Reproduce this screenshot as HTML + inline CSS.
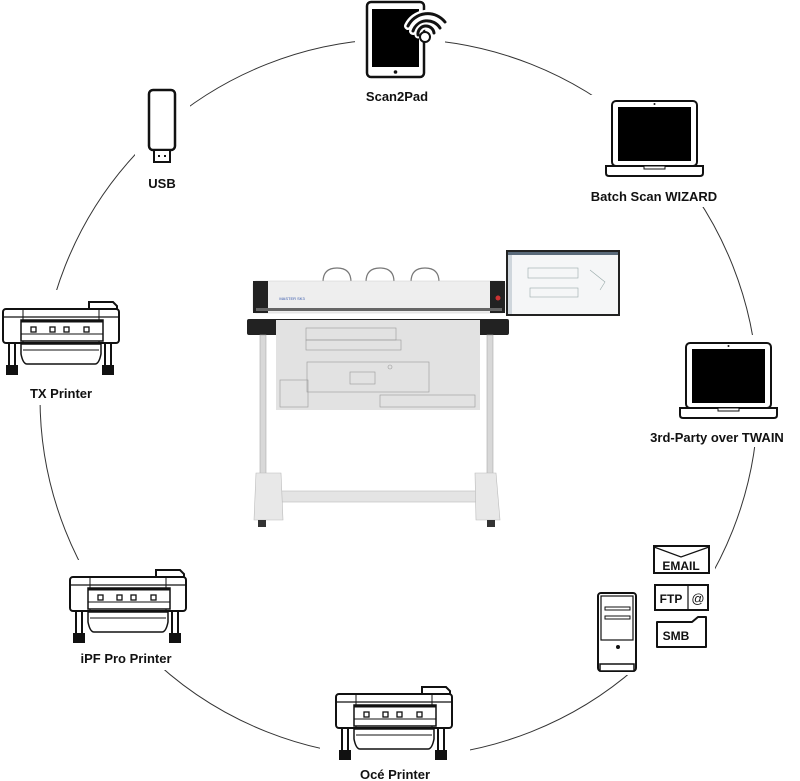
<!DOCTYPE html>
<html><head><meta charset="utf-8">
<style>
html,body{margin:0;padding:0;background:#fff;}
svg{display:block;}
text{font-family:"Liberation Sans",sans-serif;font-weight:bold;font-size:13px;fill:#111;text-anchor:middle;}
</style></head><body>
<svg width="800" height="781" viewBox="0 0 800 781" xmlns="http://www.w3.org/2000/svg">
<defs>
<g id="printer" fill="#fff" stroke="#111" stroke-width="2">
  <path d="M88 12 V4 H112 L116 8 V12"/>
  <rect x="2" y="11" width="116" height="34" rx="3"/>
  <line x1="2" y1="19" x2="118" y2="19" stroke-width="1.2"/>
  <line x1="22" y1="11" x2="22" y2="45" stroke-width="1"/>
  <line x1="98" y1="11" x2="98" y2="45" stroke-width="1"/>
  <rect x="20" y="22" width="82" height="21" stroke-width="1.5"/>
  <line x1="20" y1="23" x2="102" y2="23" stroke-width="3"/>
  <rect x="30" y="29" width="5" height="5" stroke-width="1.3"/>
  <rect x="49" y="29" width="5" height="5" stroke-width="1.3"/>
  <rect x="63" y="29" width="5" height="5" stroke-width="1.3"/>
  <rect x="83" y="29" width="5" height="5" stroke-width="1.3"/>
  <line x1="20" y1="36" x2="102" y2="36" stroke-width="1"/>
  <rect x="8" y="45" width="6" height="23"/>
  <rect x="104" y="45" width="6" height="23"/>
  <rect x="6" y="68" width="10" height="8" fill="#111"/>
  <rect x="102" y="68" width="10" height="8" fill="#111"/>
  <path d="M20 46 H100 V56 Q98 66 94 66 H26 Q22 66 20 56 Z" stroke-width="1.5"/>
  <line x1="22" y1="52" x2="98" y2="52" stroke-width="1"/>
</g>
<g id="laptop">
  <rect x="6" y="1" width="85" height="65" rx="4" fill="#fff" stroke="#111" stroke-width="2"/>
  <rect x="12" y="7" width="73" height="54" fill="#000"/>
  <circle cx="48.5" cy="4" r="1" fill="#111"/>
  <path d="M0 66 H97 V73 Q97 76 94 76 H3 Q0 76 0 73 Z" fill="#fff" stroke="#111" stroke-width="2"/>
  <rect x="38" y="66" width="21" height="3" fill="#fff" stroke="#111" stroke-width="1"/>
</g>
</defs>

<circle cx="399" cy="398" r="359" fill="none" stroke="#333" stroke-width="1"/>

<!-- white masks -->
<rect x="355" y="0" width="90" height="108" fill="#fff"/>
<rect x="135" y="84" width="55" height="108" fill="#fff"/>
<rect x="580" y="95" width="140" height="112" fill="#fff"/>
<rect x="640" y="335" width="160" height="112" fill="#fff"/>
<rect x="0" y="290" width="126" height="115" fill="#fff"/>
<rect x="55" y="560" width="140" height="110" fill="#fff"/>
<rect x="320" y="680" width="150" height="101" fill="#fff"/>
<rect x="590" y="540" width="125" height="135" fill="#fff"/>

<!-- Tablet -->
<rect x="367" y="2" width="57" height="75" rx="4" fill="#fff" stroke="#111" stroke-width="2.5"/>
<rect x="372" y="9" width="47" height="58" fill="#000"/>
<circle cx="395.5" cy="72" r="1.8" fill="#111"/>
<g fill="none" stroke-linecap="round">
  <path d="M408 26 A22 22 0 0 1 445 22" stroke="#fff" stroke-width="8"/>
  <path d="M408 26 A22 22 0 0 1 445 22" stroke="#111" stroke-width="3"/>
  <path d="M413 31 A15 15 0 0 1 440 28" stroke="#fff" stroke-width="8"/>
  <path d="M413 31 A15 15 0 0 1 440 28" stroke="#111" stroke-width="3"/>
  <path d="M418 35 A8 8 0 0 1 434 33" stroke="#fff" stroke-width="7"/>
  <path d="M418 35 A8 8 0 0 1 434 33" stroke="#111" stroke-width="3"/>
</g>
<circle cx="425" cy="37" r="5" fill="#fff" stroke="#111" stroke-width="2"/>
<text x="397" y="101">Scan2Pad</text>

<!-- USB -->
<rect x="149" y="90" width="26" height="60" rx="4" fill="#fff" stroke="#111" stroke-width="2.5"/>
<rect x="154" y="150" width="16" height="12" fill="#fff" stroke="#111" stroke-width="2"/>
<rect x="158" y="155" width="2" height="2" fill="#111"/><rect x="164" y="155" width="2" height="2" fill="#111"/>
<text x="162" y="188">USB</text>

<!-- Laptops -->
<use href="#laptop" x="606" y="100"/>
<text x="654" y="201">Batch Scan WIZARD</text>
<use href="#laptop" x="680" y="342"/>
<text x="717" y="442">3rd-Party over TWAIN</text>

<!-- Printers -->
<use href="#printer" x="1" y="298"/>
<text x="61" y="398">TX Printer</text>
<use href="#printer" x="68" y="566"/>
<text x="126" y="663">iPF Pro Printer</text>
<use href="#printer" x="334" y="683"/>
<text x="395" y="779">Océ Printer</text>

<!-- Tower -->
<rect x="598" y="593" width="38" height="78" rx="3" fill="#fff" stroke="#111" stroke-width="2"/>
<rect x="601" y="596" width="32" height="44" fill="#fff" stroke="#111" stroke-width="1.2"/>
<rect x="605" y="607" width="25" height="3" fill="#fff" stroke="#111" stroke-width="1"/>
<rect x="605" y="616" width="25" height="3" fill="#fff" stroke="#111" stroke-width="1"/>
<circle cx="618" cy="647" r="2" fill="#111"/>
<rect x="600" y="664" width="34" height="7" fill="#fff" stroke="#111" stroke-width="1.5"/>

<!-- Email/FTP/SMB -->
<rect x="654" y="546" width="55" height="27" fill="#fff" stroke="#111" stroke-width="2"/>
<path d="M654 547 L681 557 L709 547" fill="none" stroke="#111" stroke-width="1.2"/>
<text x="681" y="570" style="font-size:12px">EMAIL</text>
<rect x="655" y="585" width="53" height="25" fill="#fff" stroke="#111" stroke-width="2"/>
<line x1="688" y1="585" x2="688" y2="610" stroke="#111" stroke-width="1.2"/>
<text x="671" y="603" style="font-size:12px">FTP</text>
<text x="698" y="603" style="font-size:13px;font-weight:normal">@</text>
<path d="M657 622 H692 L698 617 H706 V647 H657 Z" fill="#fff" stroke="#111" stroke-width="2" stroke-linejoin="round"/>
<text x="676" y="640" style="font-size:12px">SMB</text>

<!-- Central scanner -->
<g>
  <rect x="506" y="250" width="114" height="66" fill="#222"/>
  <rect x="508" y="252" width="110" height="62" fill="#f5f6f7"/>
  <rect x="508" y="252" width="110" height="3" fill="#5a6a7a"/>
  <rect x="508" y="255" width="4" height="59" fill="#cfd6dc"/>
  <g fill="none" stroke="#9aa" stroke-width="0.6">
    <rect x="528" y="268" width="50" height="10"/>
    <rect x="530" y="288" width="48" height="9"/>
    <path d="M590 270 l15 12 l-5 8"/>
  </g>
  <path d="M323 282 q0 -14 14 -14 q14 0 14 14 M366 282 q0 -14 14 -14 q14 0 14 14 M411 282 q0 -14 14 -14 q14 0 14 14" fill="none" stroke="#777" stroke-width="1.2"/>
  <rect x="253" y="281" width="252" height="32" rx="3" fill="#eeeeee" stroke="#ccc" stroke-width="0.5"/>
  <path d="M253 281 H268 V313 H253 Z" fill="#222"/>
  <path d="M490 281 H505 V313 H490 Z" fill="#222"/>
  <text x="292" y="300" style="font-size:4px;fill:#35a;font-weight:normal">MASTER SK3</text>
  <circle cx="498" cy="298" r="2.5" fill="#c33"/>
  <rect x="256" y="308" width="246" height="3" fill="#666"/>
  <rect x="247" y="319" width="262" height="16" rx="2" fill="#222"/>
  <rect x="276" y="320" width="204" height="90" fill="#e2e2e2"/>
  <g fill="none" stroke="#999" stroke-width="0.6">
    <rect x="307" y="362" width="122" height="30"/>
    <rect x="350" y="372" width="25" height="12"/>
    <rect x="306" y="328" width="90" height="12"/>
    <rect x="306" y="340" width="95" height="10"/>
    <rect x="380" y="395" width="95" height="12"/>
    <rect x="280" y="380" width="28" height="27"/>
    <circle cx="390" cy="367" r="2"/>
  </g>
  <rect x="260" y="335" width="6" height="180" fill="#d8d8d8" stroke="#aaa" stroke-width="0.6"/>
  <rect x="487" y="335" width="6" height="180" fill="#d8d8d8" stroke="#aaa" stroke-width="0.6"/>
  <rect x="276" y="491" width="210" height="11" fill="#e4e4e4" stroke="#bbb" stroke-width="0.6"/>
  <path d="M256 473 H281 L283 520 H254 Z" fill="#e8e8e8" stroke="#bbb" stroke-width="0.6"/>
  <path d="M475 473 H496 L500 520 H476 Z" fill="#e8e8e8" stroke="#bbb" stroke-width="0.6"/>
  <rect x="258" y="520" width="8" height="7" fill="#333"/>
  <rect x="487" y="520" width="8" height="7" fill="#333"/>
</g>
</svg>
</body></html>
